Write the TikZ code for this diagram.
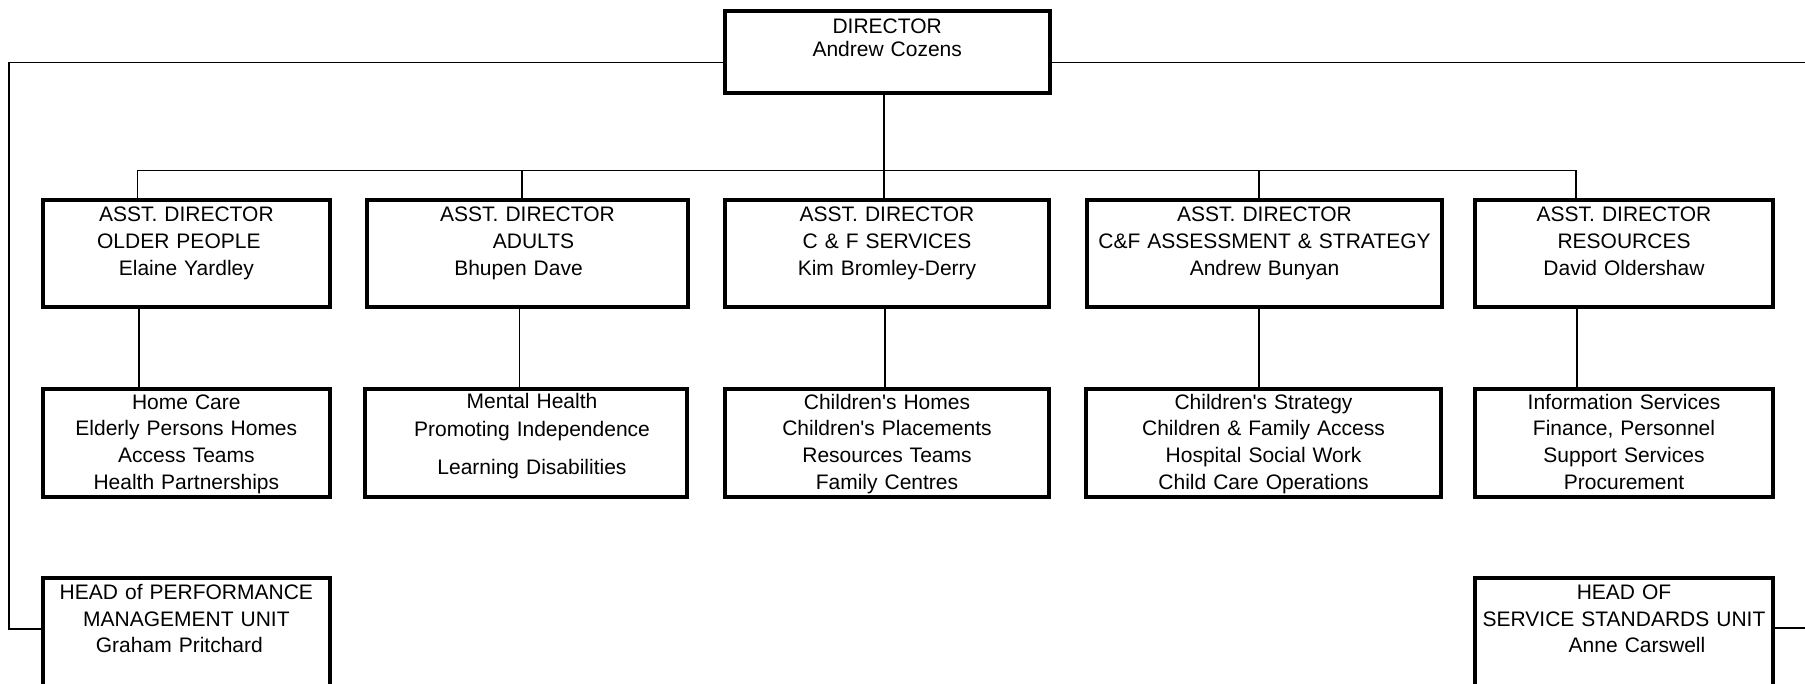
\documentclass[tikz,border=0pt]{standalone}
\usepackage{fontspec}
\setmainfont{Liberation Sans}
\newcommand{\sh}[1]{\leavevmode\kern#1}
\newcommand{\apo}{\textquotesingle}
\begin{document}
\begin{tikzpicture}[x=1pt,y=-1pt,
  box/.style={draw, line width=4pt, inner sep=0pt, outer sep=0pt, anchor=north west, align=center},
  fa/.style={font=\fontsize{21}{26.7}\selectfont},
  fd/.style={font=\fontsize{21}{23.4}\selectfont},
  conn/.style={line width=1.3pt}]
\useasboundingbox (0,0) rectangle (1805,684);
% director
\node[box,fd,text width=325pt,text height=22.6pt,text depth=59.4pt] (dir) at (724.7,10.7) {DIRECTOR\\Andrew Cozens};
% assistant directors
\node[box,fa,text width=287.3pt,text height=21.4pt,text depth=85pt] (a1) at (42.7,200.3) {ASST. DIRECTOR\\OLDER PEOPLE\kern15pt\\Elaine Yardley};
\node[box,fa,text width=321pt,text height=21.4pt,text depth=85pt] (a2) at (367,200.3) {ASST. DIRECTOR\\\sh{12pt}ADULTS\\Bhupen Dave\kern18pt};
\node[box,fa,text width=324pt,text height=21.4pt,text depth=85pt] (a3) at (725,200.3) {ASST. DIRECTOR\\C \& F SERVICES\\Kim Bromley-Derry};
\node[box,fa,text width=355pt,text height=21.4pt,text depth=85pt] (a4) at (1087,200.3) {ASST. DIRECTOR\\C\&F ASSESSMENT \& STRATEGY\\Andrew Bunyan};
\node[box,fa,text width=298pt,text height=21.4pt,text depth=85pt] (a5) at (1475,200.3) {ASST. DIRECTOR\\RESOURCES\\David Oldershaw};
% services
\node[box,fa,text width=287.3pt,text height=20.6pt,text depth=87.4pt] (l1) at (42.7,388.7) {Home Care\\Elderly Persons Homes\\Access Teams\\Health Partnerships};
\node[box,fa,text width=322pt,text height=19.6pt,text depth=88.4pt] (l2) at (365,388.7) {\sh{12pt}Mental Health\\[1.7pt]\sh{12pt}Promoting Independence\\[11.6pt]\sh{12pt}Learning Disabilities};
\node[box,fa,text width=324pt,text height=20.6pt,text depth=87.4pt] (l3) at (725,388.7) {Children\apo s Homes\\Children\apo s Placements\\Resources Teams\\Family Centres};
\node[box,fa,text width=355pt,text height=20.6pt,text depth=87.4pt] (l4) at (1086,388.7) {Children\apo s Strategy\\Children \& Family Access\\Hospital Social Work\\Child Care Operations};
\node[box,fa,text width=298pt,text height=20.6pt,text depth=87.4pt] (l5) at (1475,388.7) {Information Services\\Finance, Personnel\\Support Services\\Procurement};
% heads of units
\node[box,fa,text width=287.3pt,text height=21.6pt,text depth=120pt] (hpm) at (42.7,577.7) {HEAD of PERFORMANCE\\MANAGEMENT UNIT\\Graham Pritchard\kern14pt};
\node[box,fa,text width=298pt,text height=21.6pt,text depth=120pt] (hss) at (1475,577.7) {HEAD OF\\SERVICE STANDARDS UNIT\\\sh{26pt}Anne Carswell};
% coordinates
\coordinate (lt) at (9,62.3);
\coordinate (lb) at (9,629);
\coordinate (rt) at (1830,62.3);
\coordinate (rb) at (1830,628);
\coordinate (c1) at (137.7,170.5);
\coordinate (c2) at (522,170.5);
\coordinate (c3) at (884,170.5);
\coordinate (c4) at (1259,170.5);
\coordinate (c5) at (1576,170.5);
\coordinate (d1) at (139,350);
\coordinate (d2) at (519.5,350);
\coordinate (d3) at (885,350);
\coordinate (d4) at (1259,350);
\coordinate (d5) at (1577,350);
% connectors
\draw[conn] (dir.west |- lt) -- (lt) -- (lb) -- (lb -| hpm.west);
\draw[conn] (dir.east |- rt) -- (rt) -- (rb) -- (rb -| hss.east);
\draw[conn] (c3 |- dir.south) -- (c3);
\draw[conn] (c1) -- (c5);
\draw[conn] (c1) -- (c1 |- a1.north);
\draw[conn] (c2) -- (c2 |- a2.north);
\draw[conn] (c3) -- (c3 |- a3.north);
\draw[conn] (c4) -- (c4 |- a4.north);
\draw[conn] (c5) -- (c5 |- a5.north);
\draw[conn] (d1 |- a1.south) -- (d1 |- l1.north);
\draw[conn] (d2 |- a2.south) -- (d2 |- l2.north);
\draw[conn] (d3 |- a3.south) -- (d3 |- l3.north);
\draw[conn] (d4 |- a4.south) -- (d4 |- l4.north);
\draw[conn] (d5 |- a5.south) -- (d5 |- l5.north);
\end{tikzpicture}
\end{document}
